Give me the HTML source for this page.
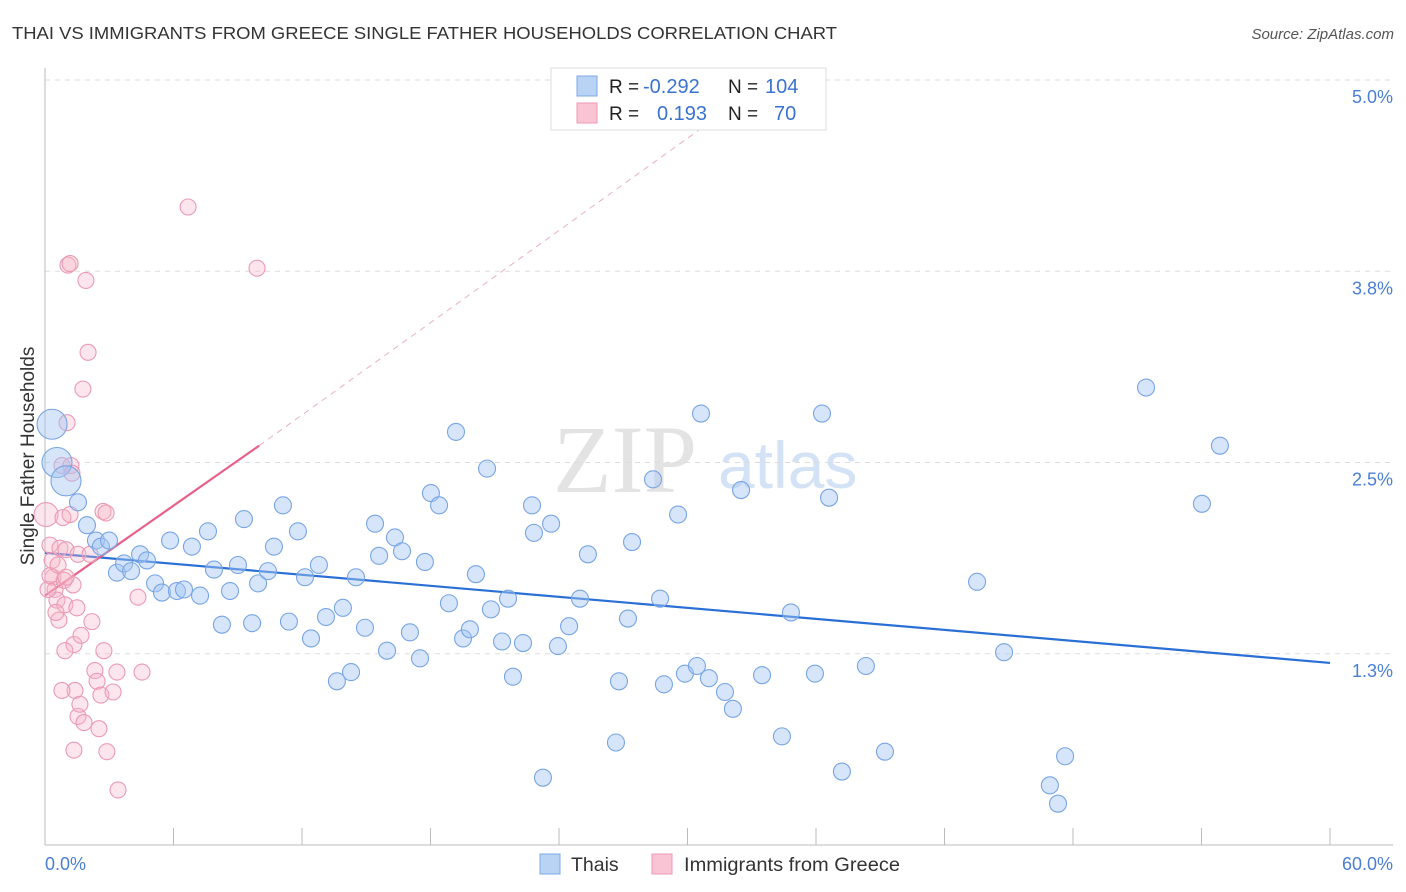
<!DOCTYPE html>
<html><head><meta charset="utf-8"><style>
body{margin:0;background:#fff;font-family:"Liberation Sans",sans-serif}
svg{display:block}
</style></head><body>
<svg id="chart" width="1406" height="892" xmlns="http://www.w3.org/2000/svg">
<text x="12" y="39" font-size="17.5" fill="#333" textLength="825" lengthAdjust="spacingAndGlyphs">THAI VS IMMIGRANTS FROM GREECE SINGLE FATHER HOUSEHOLDS CORRELATION CHART</text>
<text x="1394" y="39" font-size="15" fill="#555" font-style="italic" text-anchor="end">Source: ZipAtlas.com</text>
<g><text x="553" y="492" font-size="96" font-family="Liberation Serif" fill="#e3e3e3">ZIP</text><text x="718" y="488" font-size="66" fill="#d4e2f5">atlas</text></g>
<g id="grid"></g><g id="axes"></g><g id="trend"></g><g id="pts"></g>
<text transform="translate(34,456) rotate(-90)" font-size="19" fill="#333" text-anchor="middle">Single Father Households</text>
<text x="45" y="870" font-size="18" fill="#4a7fd4">0.0%</text>
<text x="1393" y="870" font-size="18" fill="#4a7fd4" text-anchor="end">60.0%</text>
<g>
<rect x="551" y="68" width="275" height="62" fill="#fff" stroke="#ddd"/>
<rect x="577" y="76" width="20" height="20" fill="#b9d3f5" stroke="#7ea8e4"/>
<rect x="577" y="103" width="20" height="20" fill="#f9c4d3" stroke="#ee9ab5"/>
<text x="609" y="93" font-size="19" fill="#222">R = </text><text x="643" y="93" font-size="20" fill="#3a73cf">-0.292</text>
<text x="728" y="93" font-size="19" fill="#222">N = </text><text x="765" y="93" font-size="20" fill="#3a73cf">104</text>
<text x="609" y="120" font-size="19" fill="#222">R = </text><text x="657" y="120" font-size="20" fill="#3a73cf">0.193</text>
<text x="728" y="120" font-size="19" fill="#222">N = </text><text x="774" y="120" font-size="20" fill="#3a73cf">70</text>
</g>
<g>
<rect x="540" y="854" width="20" height="20" fill="#b9d3f5" stroke="#7ea8e4"/>
<text x="571" y="871" font-size="19.5" fill="#333">Thais</text>
<rect x="652" y="854" width="20" height="20" fill="#f9c4d3" stroke="#ee9ab5"/>
<text x="684" y="871" font-size="19.5" fill="#333" textLength="216" lengthAdjust="spacingAndGlyphs">Immigrants from Greece</text>
</g>
</svg>
<script>
const yTicks=[5.0,3.75,2.5,1.25];
const yTickLabels=["5.0%","3.8%","2.5%","1.3%"];
const xTicks=[0,6,12,18,24,30,36,42,48,54,60];
const thaiX=[0.33,0.56,0.98,1.54,1.96,2.38,2.61,2.99,3.36,3.69,4.02,4.44,4.76,5.14,5.46,5.84,6.16,6.49,6.86,7.24,7.61,7.89,8.26,8.64,9.01,9.29,9.67,9.95,10.41,10.69,11.11,11.39,11.81,12.14,12.42,12.79,13.12,13.63,13.91,14.29,14.52,14.94,15.41,15.60,15.97,16.34,16.67,17.04,17.51,17.74,18.02,18.40,18.86,19.19,19.52,19.84,20.12,20.64,20.82,21.34,21.62,21.85,22.32,22.74,22.83,23.25,23.63,23.95,24.47,24.98,25.35,26.66,26.80,27.22,27.41,28.39,28.72,28.90,29.56,29.88,30.44,30.63,31.00,31.75,32.12,32.50,33.48,34.41,34.83,35.95,36.28,36.61,37.21,38.33,39.22,43.52,44.78,46.92,47.30,47.63,51.41,54.02,54.86];
const thaiY=[2.75,2.50,2.38,2.24,2.09,1.99,1.95,1.99,1.78,1.84,1.79,1.90,1.86,1.71,1.65,1.99,1.66,1.67,1.95,1.63,2.05,1.80,1.44,1.66,1.83,2.13,1.45,1.71,1.79,1.95,2.22,1.46,2.05,1.75,1.35,1.83,1.49,1.07,1.55,1.13,1.75,1.42,2.10,1.89,1.27,2.01,1.92,1.39,1.22,1.85,2.30,2.22,1.58,2.70,1.35,1.41,1.77,2.46,1.54,1.33,1.61,1.10,1.32,2.22,2.04,0.44,2.10,1.30,1.43,1.61,1.90,0.67,1.07,1.48,1.98,2.39,1.61,1.05,2.16,1.12,1.17,2.82,1.09,1.00,0.89,2.32,1.11,0.71,1.52,1.12,2.82,2.27,0.48,1.17,0.61,1.72,1.26,0.39,0.27,0.58,2.99,2.23,2.61];
const thaiBig=[0,1,2];
const greeceX=[0.05,0.23,0.33,0.37,0.47,0.56,0.65,0.70,0.79,0.84,0.89,0.93,0.98,1.03,1.07,1.17,1.17,1.21,1.26,1.31,1.35,1.40,1.49,1.54,1.54,1.63,1.68,1.77,1.82,1.91,2.01,2.10,2.19,2.33,2.43,2.52,2.61,2.71,2.75,2.85,2.89,3.18,3.36,3.41,4.34,4.53,6.68,9.90,0.14,0.51,0.93,0.79,1.35,0.23,0.61,0.98];
const greeceY=[2.16,1.96,1.86,1.75,1.67,1.60,1.47,1.94,2.48,2.14,1.73,1.57,1.93,2.76,3.79,3.80,2.16,2.48,2.43,1.70,1.31,1.01,1.55,1.90,0.84,0.92,1.37,2.98,0.80,3.69,3.22,1.90,1.46,1.14,1.07,0.76,0.98,2.18,1.27,2.17,0.61,1.00,1.13,0.36,1.62,1.13,4.17,3.77,1.67,1.52,1.27,1.01,0.62,1.76,1.83,1.75];
const thaiTrendX=[0,60], thaiTrendY=[1.91,1.19];
const greeceTrendX=[0,10], greeceTrendY=[1.63,2.61];
const greeceDashX=[10,31.5], greeceDashY=[2.61,4.77];

const NS="http://www.w3.org/2000/svg";
const sx=v=>45+v*(1285/60);
const sy=v=>845-v*153;
function mk(tag,attrs,parent){const e=document.createElementNS(NS,tag);for(const k in attrs)e.setAttribute(k,attrs[k]);document.getElementById(parent).appendChild(e);return e;}
yTicks.forEach((t,i)=>{
  const l=mk('line',{x1:45,x2:1393,y1:sy(t),y2:sy(t),stroke:'#ddd','stroke-dasharray':'5,5'},'grid');
  
  
  const tx=mk('text',{x:1393,y:sy(t)+23,'font-size':18,fill:'#4a7fd4','text-anchor':'end'},'grid');
  tx.textContent=yTickLabels[i];
  
  
});
const ya=mk('line',{x1:45,x2:45,y1:68,y2:845,stroke:'#bbb'},'axes');


const xa=mk('line',{x1:45,x2:1393,y1:845,y2:845,stroke:'#bbb'},'axes');


xTicks.forEach(t=>{
  const l=mk('line',{x1:sx(t),x2:sx(t),y1:828,y2:845,stroke:'#bbb'},'axes');
  
  
});
const t1=mk('line',{x1:sx(thaiTrendX[0]),y1:sy(thaiTrendY[0]),x2:sx(thaiTrendX[1]),y2:sy(thaiTrendY[1]),stroke:'#2a6fd6','stroke-width':2.2},'trend');


const t2=mk('line',{x1:sx(greeceTrendX[0]),y1:sy(greeceTrendY[0]),x2:sx(greeceTrendX[1]),y2:sy(greeceTrendY[1]),stroke:'#e8608a','stroke-width':2.2},'trend');


const t3=mk('line',{x1:sx(greeceDashX[0]),y1:sy(greeceDashY[0]),x2:sx(greeceDashX[1]),y2:sy(greeceDashY[1]),stroke:'#ebb0c3','stroke-width':1,'stroke-dasharray':'6,5'},'trend');


greeceX.forEach((x,i)=>{
  const c=mk('circle',{cx:sx(x),cy:sy(greeceY[i]),r:i===0?12:8,fill:'rgba(247,180,201,0.35)',stroke:'#eb9ab5','stroke-width':1.1},'pts');
  
  
});
thaiX.forEach((x,i)=>{
  const big=thaiBig.includes(i);
  const c=mk('circle',{cx:sx(x),cy:sy(thaiY[i]),r:big?15:8.5,fill:'rgba(165,198,242,0.45)',stroke:'#78a5e4','stroke-width':1.1},'pts');
  
  
});
</script>
</body></html>
